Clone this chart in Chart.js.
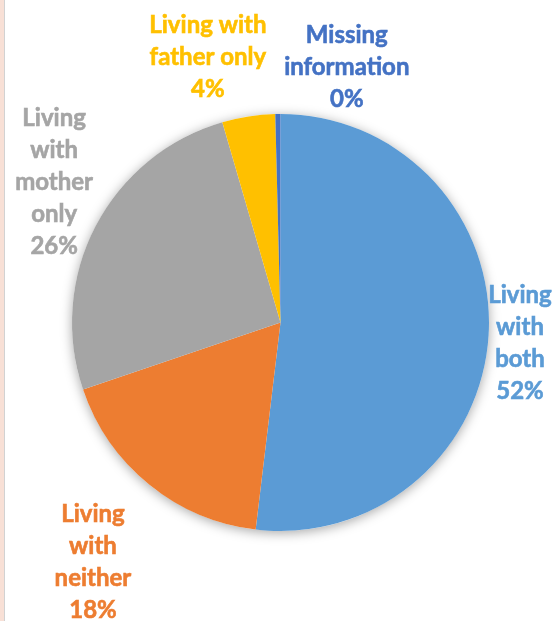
<!DOCTYPE html>
<html>
<head>
<meta charset="utf-8">
<script src="https://cdn.jsdelivr.net/npm/chart.js@4.4.1/dist/chart.umd.min.js"></script>
<style>
  html, body { margin: 0; padding: 0; background: #fff; }
  #wrap { position: relative; width: 553px; height: 621px; }
  #edge { position: absolute; left: 0; top: 0; width: 4px; height: 621px;
          background: #f8e0d6; border-right: 1px solid #d2d2d2; z-index: 2; }
  canvas { position: absolute; left: 0; top: 0; }
</style>
</head>
<body>
<div id="wrap">
  <div id="edge"></div>
  <canvas id="grafica" width="553" height="621"></canvas>
</div>
<script>
// categorías y porcentajes
const categorias = [
  ['Living', 'with', 'both'],
  ['Living', 'with', 'neither'],
  ['Living', 'with', 'mother', 'only'],
  ['Living with', 'father only'],
  ['Missing', 'information']
];
const valores = [51.9, 17.9, 25.7, 4.1, 0.4];
const colores = ['#5b9bd5', '#ed7d31', '#a5a5a5', '#ffc000', '#4472c4'];

// colocación de cada etiqueta: factor del radio y giro en grados
const etiquetaRadio = [1.153, 1.459, 1.278, 1.318, 1.263];
const etiquetaGiro = [1.5, -1.0, 4.3, -6.5, 15.3];

// sombra suave debajo de todo el círculo
const sombraPie = {
  id: 'sombraPie',
  beforeDatasetsDraw(chart) {
    const arc = chart.getDatasetMeta(0).data[0];
    if (!arc) return;
    const ctx = chart.ctx;
    ctx.save();
    ctx.shadowColor = 'rgba(0,0,0,0.35)';
    ctx.shadowBlur = 12;
    ctx.shadowOffsetY = 2;
    ctx.fillStyle = '#ffffff';
    ctx.beginPath();
    ctx.arc(arc.x, arc.y, arc.outerRadius, 0, Math.PI * 2);
    ctx.fill();
    ctx.restore();
  }
};

// etiquetas con nombre y porcentaje
const etiquetas = {
  id: 'etiquetas',
  afterDatasetsDraw(chart) {
    const ctx = chart.ctx;
    const total = valores.reduce((a, b) => a + b, 0);
    ctx.save();
    ctx.font = 'bold 24px Lato';
    ctx.textAlign = 'center';
    ctx.textBaseline = 'middle';
    ctx.lineWidth = 0.6;
    chart.getDatasetMeta(0).data.forEach((arc, i) => {
      const mid = (arc.startAngle + arc.endAngle) / 2 + etiquetaGiro[i] * Math.PI / 180;
      const r = arc.outerRadius * etiquetaRadio[i];
      const cx = arc.x + Math.cos(mid) * r;
      const cy = arc.y + Math.sin(mid) * r;
      const lineas = categorias[i].concat([Math.round(valores[i] / total * 100) + '%']);
      const alto = 32;
      const y0 = cy - (lineas.length - 1) * alto / 2;
      ctx.fillStyle = colores[i];
      ctx.strokeStyle = colores[i];
      lineas.forEach((t, k) => {
        ctx.fillText(t, cx, y0 + k * alto);
        ctx.strokeText(t, cx, y0 + k * alto);
      });
    });
    ctx.restore();
  }
};

new Chart(document.getElementById('grafica'), {
  type: 'pie',
  data: {
    labels: categorias.map(c => c.join(' ')),
    datasets: [{
      data: valores,
      backgroundColor: colores,
      borderWidth: 0
    }]
  },
  options: {
    responsive: false,
    animation: false,
    layout: { padding: { left: 72, right: 64, top: 113, bottom: 89 } },
    plugins: {
      legend: { display: false },
      tooltip: { enabled: false }
    }
  },
  plugins: [sombraPie, etiquetas]
});
</script>
</body>
</html>
